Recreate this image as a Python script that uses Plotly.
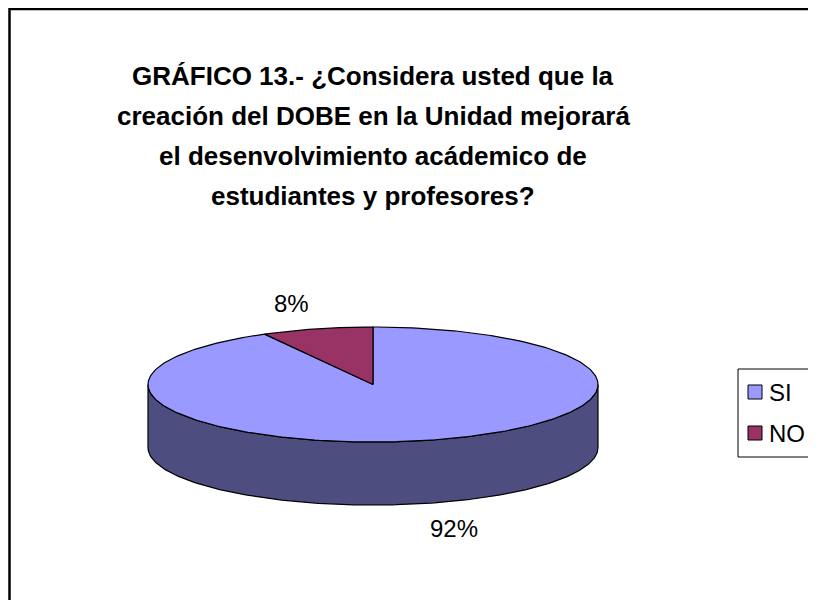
import numpy as np
import plotly.graph_objects as go

# datos del gráfico 13
categorias = ["SI", "NO"]
porcentajes = [92, 8]
etiquetas = ["92%", "8%"]
colores_tapa = ["#9999FF", "#993366"]
colores_lado = ["#4D4D80", "#4D1A33"]

titulo = ["GRÁFICO 13.- ¿Considera usted que la",
          "creación del DOBE en la Unidad mejorará",
          "el desenvolvimiento acádemico de",
          "estudiantes y profesores?"]

# la pagina deja 8px de margen en el body; la figura se achica para no tener scroll
OFF = 8
W, H = 800, 592
# geometria del pastel (pixeles de la figura)
cx, cy = 373 - OFF, 384.5 - OFF
rx, ry, prof = 225, 57.5, 63
esc = float(rx)  # pixeles por unidad
RY = ry / esc
PROF = prof / esc


def px(x):
    return (x - OFF) / W


def py(y):
    return 1 - (y - OFF) / H


def elipse(ang_deg, bajar=0.0):
    a = np.radians(ang_deg)
    return np.cos(a), RY * np.sin(a) - bajar


fig = go.Figure()

# porciones en sentido horario desde las 12; el NO queda detras
fracs = np.array(porcentajes) / sum(porcentajes)
tramos = [(90, 90 - fracs[0] * 360), (90 + fracs[1] * 360, 90)]

# pared lateral frontal (180..360 grados), toda del SI
ang = np.linspace(180, 360, 200)
xs_t, ys_t = elipse(ang)
xs_b, ys_b = elipse(ang[::-1], PROF)
fig.add_trace(go.Scatter(
    x=np.concatenate([xs_t, xs_b, xs_t[:1]]),
    y=np.concatenate([ys_t, ys_b, ys_t[:1]]),
    mode="lines", fill="toself", fillcolor=colores_lado[0],
    line=dict(color="black", width=1.2), hoverinfo="skip", showlegend=False))

# tapas de cada porción
for (a0, a1), col, cat in zip(tramos, colores_tapa, categorias):
    ang = np.linspace(a0, a1, 300)
    xs, ys = elipse(ang)
    fig.add_trace(go.Scatter(
        x=np.concatenate([[0], xs, [0]]),
        y=np.concatenate([[0], ys, [0]]),
        mode="lines", fill="toself", fillcolor=col, name=cat,
        line=dict(color="black", width=1.2), hoverinfo="skip", showlegend=False))

# etiquetas de porcentaje fuera de cada porción
k = 1.45
for (a0, a1), txt in zip(tramos, etiquetas):
    am = (a0 + a1) / 2
    x, y = elipse(am)
    x, y = k * x, k * y
    if np.sin(np.radians(am)) < 0:
        y -= PROF
    fig.add_annotation(x=x, y=y, text=txt, showarrow=False,
                       xanchor="center", yanchor="middle",
                       font=dict(size=24, color="black", family="Liberation Sans"))

# titulo en cuatro lineas
for i, linea in enumerate(titulo):
    fig.add_annotation(x=px(373), y=py(76 + 40 * i), xref="paper", yref="paper",
                       xanchor="center", yanchor="middle",
                       text="<b>" + linea + "</b>", showarrow=False,
                       font=dict(size=26, color="black", family="Liberation Sans"))

# marco del area del grafico
fig.add_shape(type="rect", xref="paper", yref="paper",
              x0=px(9.5), x1=1.05, y0=-0.05, y1=py(9),
              line=dict(color="black", width=2.5))

# leyenda (a la derecha, cortada por el borde como en el original)
fig.add_shape(type="rect", xref="paper", yref="paper",
              x0=px(738), x1=1.05, y0=py(457), y1=py(369),
              line=dict(color="black", width=1), fillcolor="white")
for i, (cat, col) in enumerate(zip(categorias, colores_tapa)):
    yc = 392 + 41 * i
    fig.add_shape(type="rect", xref="paper", yref="paper",
                  x0=px(748), x1=px(762), y0=py(yc + 7), y1=py(yc - 7),
                  line=dict(color="black", width=1), fillcolor=col)
    fig.add_annotation(x=px(767), y=py(yc), xref="paper", yref="paper",
                       xanchor="left", yanchor="middle", text=cat, showarrow=False,
                       font=dict(size=24, color="black", family="Liberation Sans"))

fig.update_xaxes(range=[-cx / esc, (W - cx) / esc], visible=False, fixedrange=True)
fig.update_yaxes(range=[-(H - cy) / esc, cy / esc], visible=False, fixedrange=True)

fig.update_layout(
    width=W, height=H,
    margin=dict(l=0, r=0, t=0, b=0),
    paper_bgcolor="white", plot_bgcolor="white",
    font=dict(family="Liberation Sans", color="black"),
    showlegend=False,
)

fig.write_html("out.html")
